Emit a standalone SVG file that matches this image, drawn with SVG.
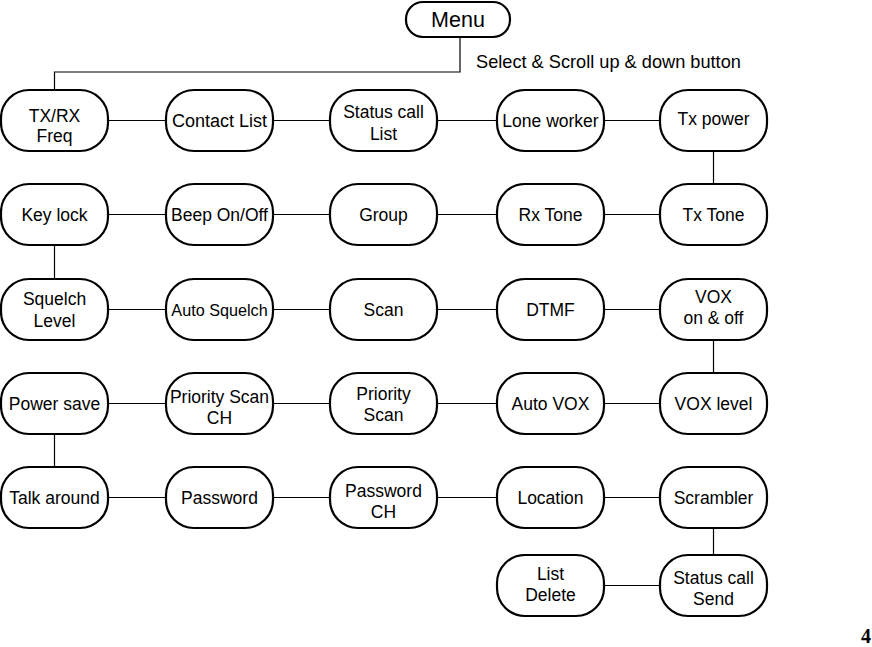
<svg xmlns="http://www.w3.org/2000/svg" width="872" height="647" viewBox="0 0 872 647">
<style>
.n{fill:#fff;stroke:#000;stroke-width:2.2}
.t{font-family:"Liberation Sans",Arial,sans-serif;font-size:17.5px;fill:#000;text-anchor:middle}
.c{fill:none;stroke:#000;stroke-width:1.2}
</style>
<rect width="872" height="647" fill="#fff"/>
<g id="connectors">
<path class="c" d="M460,37 V72 H54.5 V90"/>
<path class="c" d="M108,120.5 H166 M273,120.5 H330 M437,120.5 H497 M604,120.5 H660"/>
<path class="c" d="M713.5,151 V184"/>
<path class="c" d="M108,214.5 H166 M273,214.5 H330 M437,214.5 H497 M604,214.5 H660"/>
<path class="c" d="M54.5,245 V279"/>
<path class="c" d="M108,309.5 H166 M273,309.5 H330 M437,309.5 H497 M604,309.5 H660"/>
<path class="c" d="M713.5,340 V373"/>
<path class="c" d="M108,403.5 H166 M273,403.5 H330 M437,403.5 H497 M604,403.5 H660"/>
<path class="c" d="M54.5,434 V467"/>
<path class="c" d="M108,497.5 H166 M273,497.5 H330 M437,497.5 H497 M604,497.5 H660"/>
<path class="c" d="M713.5,528 V555"/>
<path class="c" d="M604,585.5 H660"/>
</g>
<g id="menu"><rect class="n" x="406" y="2" width="104" height="35" rx="17"/><text class="t" x="458" y="27" style="font-size:21.5px">Menu</text></g>
<text class="t" x="476" y="68" style="text-anchor:start;font-size:18.2px">Select &amp; Scroll up &amp; down button</text>

<g id="txrx"><rect class="n" x="1" y="90" width="107" height="61" rx="28"/><text class="t" x="54.5" y="122">TX/RX</text><text class="t" x="54.5" y="142">Freq</text></g>
<g id="contact"><rect class="n" x="166" y="90" width="107" height="61" rx="28"/><text class="t" x="219.5" y="127" style="font-size:18px">Contact List</text></g>
<g id="statuslist"><rect class="n" x="330" y="90" width="107" height="61" rx="28"/><text class="t" x="383.5" y="118">Status call</text><text class="t" x="383.5" y="140">List</text></g>
<g id="lone"><rect class="n" x="497" y="90" width="107" height="61" rx="28"/><text class="t" x="550.5" y="127">Lone worker</text></g>
<g id="txpower"><rect class="n" x="660" y="90" width="107" height="61" rx="28"/><text class="t" x="713.5" y="125">Tx power</text></g>

<g id="keylock"><rect class="n" x="1" y="184" width="107" height="61" rx="28"/><text class="t" x="54.5" y="221">Key lock</text></g>
<g id="beep"><rect class="n" x="166" y="184" width="107" height="61" rx="28"/><text class="t" x="219.5" y="221">Beep On/Off</text></g>
<g id="group"><rect class="n" x="330" y="184" width="107" height="61" rx="28"/><text class="t" x="383.5" y="221">Group</text></g>
<g id="rxtone"><rect class="n" x="497" y="184" width="107" height="61" rx="28"/><text class="t" x="550.5" y="221">Rx Tone</text></g>
<g id="txtone"><rect class="n" x="660" y="184" width="107" height="61" rx="28"/><text class="t" x="713.5" y="221">Tx Tone</text></g>

<g id="squelch"><rect class="n" x="1" y="279" width="107" height="61" rx="28"/><text class="t" x="54.5" y="305">Squelch</text><text class="t" x="54.5" y="327">Level</text></g>
<g id="autosquelch"><rect class="n" x="166" y="279" width="107" height="61" rx="28"/><text class="t" x="219.5" y="316" style="font-size:16.2px">Auto Squelch</text></g>
<g id="scan"><rect class="n" x="330" y="279" width="107" height="61" rx="28"/><text class="t" x="383.5" y="316">Scan</text></g>
<g id="dtmf"><rect class="n" x="497" y="279" width="107" height="61" rx="28"/><text class="t" x="550.5" y="316">DTMF</text></g>
<g id="vox"><rect class="n" x="660" y="279" width="107" height="61" rx="28"/><text class="t" x="713.5" y="303">VOX</text><text class="t" x="713.5" y="324">on &amp; off</text></g>

<g id="powersave"><rect class="n" x="1" y="373" width="107" height="61" rx="28"/><text class="t" x="54.5" y="410">Power save</text></g>
<g id="priscanch"><rect class="n" x="166" y="373" width="107" height="61" rx="28"/><text class="t" x="219.5" y="403">Priority Scan</text><text class="t" x="219.5" y="424">CH</text></g>
<g id="priscan"><rect class="n" x="330" y="373" width="107" height="61" rx="28"/><text class="t" x="383.5" y="400">Priority</text><text class="t" x="383.5" y="421">Scan</text></g>
<g id="autovox"><rect class="n" x="497" y="373" width="107" height="61" rx="28"/><text class="t" x="550.5" y="410">Auto VOX</text></g>
<g id="voxlevel"><rect class="n" x="660" y="373" width="107" height="61" rx="28"/><text class="t" x="713.5" y="410">VOX level</text></g>

<g id="talkaround"><rect class="n" x="1" y="467" width="107" height="61" rx="28"/><text class="t" x="54.5" y="504">Talk around</text></g>
<g id="password"><rect class="n" x="166" y="467" width="107" height="61" rx="28"/><text class="t" x="219.5" y="504">Password</text></g>
<g id="passwordch"><rect class="n" x="330" y="467" width="107" height="61" rx="28"/><text class="t" x="383.5" y="497">Password</text><text class="t" x="383.5" y="518">CH</text></g>
<g id="location"><rect class="n" x="497" y="467" width="107" height="61" rx="28"/><text class="t" x="550.5" y="504">Location</text></g>
<g id="scrambler"><rect class="n" x="660" y="467" width="107" height="61" rx="28"/><text class="t" x="713.5" y="504">Scrambler</text></g>

<g id="listdelete"><rect class="n" x="497" y="555" width="107" height="61" rx="28"/><text class="t" x="550.5" y="580">List</text><text class="t" x="550.5" y="601">Delete</text></g>
<g id="statussend"><rect class="n" x="660" y="555" width="107" height="61" rx="28"/><text class="t" x="713.5" y="584">Status call</text><text class="t" x="713.5" y="605">Send</text></g>

<text x="866" y="643" style="font-family:'Liberation Serif','Times New Roman',serif;font-size:20px;font-weight:bold;text-anchor:middle">4</text>
</svg>
